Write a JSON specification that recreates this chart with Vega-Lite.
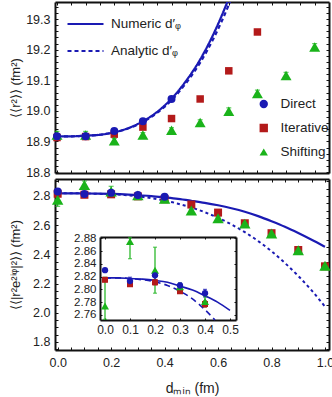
{
  "$schema": "https://vega.github.io/schema/vega-lite/v6.json",
  "width": 274,
  "height": 348,
  "autosize": {"type": "none"},
  "padding": {"left": 55, "top": 2, "right": 3, "bottom": 47},
  "background": "white",
  "config": {
    "view": {"stroke": null},
    "axis": {
      "labelFont": "Liberation Sans", "titleFont": "Liberation Sans",
      "labelFontSize": 12.5, "titleFontSize": 13, "titleFontWeight": "normal",
      "labelColor": "#222", "titleColor": "#222",
      "domainColor": "#111", "domainWidth": 2, "tickColor": "#111", "tickWidth": 1,
      "grid": false, "labelOverlap": false, "labelFlush": false, "zindex": 1
    }
  },
  "datasets": {
    "top_curves": [
      {"d": 0, "v": 18.917, "c": "Numeric d′ᵩ"}, {"d": 0.05, "v": 18.917, "c": "Numeric d′ᵩ"},
      {"d": 0.1, "v": 18.919, "c": "Numeric d′ᵩ"}, {"d": 0.15, "v": 18.922, "c": "Numeric d′ᵩ"},
      {"d": 0.2, "v": 18.930, "c": "Numeric d′ᵩ"}, {"d": 0.25, "v": 18.944, "c": "Numeric d′ᵩ"},
      {"d": 0.3, "v": 18.966, "c": "Numeric d′ᵩ"}, {"d": 0.35, "v": 18.997, "c": "Numeric d′ᵩ"},
      {"d": 0.4, "v": 19.040, "c": "Numeric d′ᵩ"}, {"d": 0.45, "v": 19.097, "c": "Numeric d′ᵩ"},
      {"d": 0.5, "v": 19.168, "c": "Numeric d′ᵩ"}, {"d": 0.55, "v": 19.258, "c": "Numeric d′ᵩ"},
      {"d": 0.6, "v": 19.368, "c": "Numeric d′ᵩ"}, {"d": 0.62, "v": 19.417, "c": "Numeric d′ᵩ"},
      {"d": 0, "v": 18.917, "c": "Analytic d′ᵩ"}, {"d": 0.05, "v": 18.917, "c": "Analytic d′ᵩ"},
      {"d": 0.1, "v": 18.919, "c": "Analytic d′ᵩ"}, {"d": 0.15, "v": 18.922, "c": "Analytic d′ᵩ"},
      {"d": 0.2, "v": 18.930, "c": "Analytic d′ᵩ"}, {"d": 0.25, "v": 18.943, "c": "Analytic d′ᵩ"},
      {"d": 0.3, "v": 18.964, "c": "Analytic d′ᵩ"}, {"d": 0.35, "v": 18.994, "c": "Analytic d′ᵩ"},
      {"d": 0.4, "v": 19.035, "c": "Analytic d′ᵩ"}, {"d": 0.45, "v": 19.090, "c": "Analytic d′ᵩ"},
      {"d": 0.5, "v": 19.158, "c": "Analytic d′ᵩ"}, {"d": 0.55, "v": 19.243, "c": "Analytic d′ᵩ"},
      {"d": 0.6, "v": 19.347, "c": "Analytic d′ᵩ"}, {"d": 0.63, "v": 19.420, "c": "Analytic d′ᵩ"}
    ],
    "top_points": [
      {"d": 0, "v": 18.913, "s": "Iterative"}, {"d": 0.1, "v": 18.916, "s": "Iterative"},
      {"d": 0.2, "v": 18.924, "s": "Iterative"}, {"d": 0.3, "v": 18.947, "s": "Iterative"},
      {"d": 0.4, "v": 18.975, "s": "Iterative"}, {"d": 0.5, "v": 19.039, "s": "Iterative"},
      {"d": 0.6, "v": 19.131, "s": "Iterative"}, {"d": 0.7, "v": 19.258, "s": "Iterative"},
      {"d": 0, "v": 18.921, "lo": 18.909, "hi": 18.933, "s": "Shifting"},
      {"d": 0.1, "v": 18.921, "lo": 18.909, "hi": 18.933, "s": "Shifting"},
      {"d": 0.2, "v": 18.902, "lo": 18.894, "hi": 18.910, "s": "Shifting"},
      {"d": 0.3, "v": 18.921, "lo": 18.913, "hi": 18.929, "s": "Shifting"},
      {"d": 0.4, "v": 18.937, "lo": 18.929, "hi": 18.945, "s": "Shifting"},
      {"d": 0.5, "v": 18.962, "lo": 18.953, "hi": 18.971, "s": "Shifting"},
      {"d": 0.6, "v": 18.999, "lo": 18.988, "hi": 19.010, "s": "Shifting"},
      {"d": 0.7, "v": 19.057, "lo": 19.046, "hi": 19.068, "s": "Shifting"},
      {"d": 0.8, "v": 19.116, "lo": 19.106, "hi": 19.126, "s": "Shifting"},
      {"d": 0.9, "v": 19.209, "lo": 19.198, "hi": 19.220, "s": "Shifting"},
      {"d": 0, "v": 18.917, "s": "Direct"}, {"d": 0.1, "v": 18.917, "s": "Direct"},
      {"d": 0.2, "v": 18.934, "s": "Direct"}, {"d": 0.3, "v": 18.966, "s": "Direct"},
      {"d": 0.4, "v": 19.039, "s": "Direct"}
    ],
    "bot_curves": [
      {"d": 0, "v": 2.818, "c": "N"}, {"d": 0.05, "v": 2.818, "c": "N"}, {"d": 0.1, "v": 2.817, "c": "N"},
      {"d": 0.15, "v": 2.816, "c": "N"}, {"d": 0.2, "v": 2.814, "c": "N"}, {"d": 0.25, "v": 2.811, "c": "N"},
      {"d": 0.3, "v": 2.805, "c": "N"}, {"d": 0.35, "v": 2.799, "c": "N"}, {"d": 0.4, "v": 2.790, "c": "N"},
      {"d": 0.45, "v": 2.780, "c": "N"}, {"d": 0.5, "v": 2.767, "c": "N"}, {"d": 0.55, "v": 2.753, "c": "N"},
      {"d": 0.6, "v": 2.736, "c": "N"}, {"d": 0.65, "v": 2.716, "c": "N"}, {"d": 0.7, "v": 2.692, "c": "N"},
      {"d": 0.75, "v": 2.662, "c": "N"}, {"d": 0.8, "v": 2.627, "c": "N"}, {"d": 0.85, "v": 2.589, "c": "N"},
      {"d": 0.9, "v": 2.546, "c": "N"}, {"d": 0.95, "v": 2.500, "c": "N"}, {"d": 1.0, "v": 2.452, "c": "N"},
      {"d": 0, "v": 2.818, "c": "A"}, {"d": 0.05, "v": 2.818, "c": "A"}, {"d": 0.1, "v": 2.817, "c": "A"},
      {"d": 0.15, "v": 2.815, "c": "A"}, {"d": 0.2, "v": 2.812, "c": "A"}, {"d": 0.25, "v": 2.806, "c": "A"},
      {"d": 0.3, "v": 2.797, "c": "A"}, {"d": 0.35, "v": 2.785, "c": "A"}, {"d": 0.4, "v": 2.768, "c": "A"},
      {"d": 0.44, "v": 2.752, "c": "A"},
      {"d": 0.45, "v": 2.747, "c": "A"}, {"d": 0.5, "v": 2.721, "c": "A"}, {"d": 0.55, "v": 2.689, "c": "A"},
      {"d": 0.6, "v": 2.650, "c": "A"}, {"d": 0.65, "v": 2.605, "c": "A"}, {"d": 0.7, "v": 2.552, "c": "A"},
      {"d": 0.75, "v": 2.491, "c": "A"}, {"d": 0.8, "v": 2.421, "c": "A"}, {"d": 0.85, "v": 2.341, "c": "A"},
      {"d": 0.9, "v": 2.252, "c": "A"}, {"d": 0.95, "v": 2.153, "c": "A"}, {"d": 1.0, "v": 2.042, "c": "A"}
    ],
    "bot_points": [
      {"d": 0, "v": 2.815, "lo": 2.812, "hi": 2.818, "ilo": 2.812, "ihi": 2.818, "s": "Iterative"},
      {"d": 0.1, "v": 2.808, "lo": 2.805, "hi": 2.811, "ilo": 2.805, "ihi": 2.811, "s": "Iterative"},
      {"d": 0.2, "v": 2.811, "lo": 2.807, "hi": 2.815, "ilo": 2.807, "ihi": 2.815, "s": "Iterative"},
      {"d": 0.3, "v": 2.797, "lo": 2.794, "hi": 2.800, "ilo": 2.794, "ihi": 2.800, "s": "Iterative"},
      {"d": 0.4, "v": 2.777, "lo": 2.772, "hi": 2.782, "ilo": 2.772, "ihi": 2.782, "s": "Iterative"},
      {"d": 0.5, "v": 2.741, "lo": 2.736, "hi": 2.746, "s": "Iterative"},
      {"d": 0.6, "v": 2.686, "lo": 2.681, "hi": 2.691, "s": "Iterative"},
      {"d": 0.7, "v": 2.613, "lo": 2.608, "hi": 2.618, "s": "Iterative"},
      {"d": 0.8, "v": 2.545, "lo": 2.540, "hi": 2.550, "s": "Iterative"},
      {"d": 0.9, "v": 2.430, "lo": 2.425, "hi": 2.435, "s": "Iterative"},
      {"d": 1.0, "v": 2.318, "lo": 2.313, "hi": 2.323, "s": "Iterative"},
      {"d": 0, "v": 2.774, "lo": 2.729, "hi": 2.819, "ilo": 2.753, "ihi": 2.819, "s": "Shifting"},
      {"d": 0.1, "v": 2.875, "lo": 2.848, "hi": 2.902, "ilo": 2.848, "ihi": 2.881, "s": "Shifting"},
      {"d": 0.2, "v": 2.830, "lo": 2.794, "hi": 2.866, "ilo": 2.794, "ihi": 2.866, "s": "Shifting"},
      {"d": 0.3, "v": 2.804, "lo": 2.798, "hi": 2.810, "ilo": 2.798, "ihi": 2.810, "s": "Shifting"},
      {"d": 0.4, "v": 2.781, "lo": 2.773, "hi": 2.789, "ilo": 2.773, "ihi": 2.789, "s": "Shifting"},
      {"d": 0.5, "v": 2.700, "lo": 2.690, "hi": 2.710, "s": "Shifting"},
      {"d": 0.6, "v": 2.647, "lo": 2.637, "hi": 2.657, "s": "Shifting"},
      {"d": 0.7, "v": 2.610, "lo": 2.598, "hi": 2.622, "s": "Shifting"},
      {"d": 0.8, "v": 2.543, "lo": 2.531, "hi": 2.555, "s": "Shifting"},
      {"d": 0.9, "v": 2.428, "lo": 2.416, "hi": 2.440, "s": "Shifting"},
      {"d": 1.0, "v": 2.322, "lo": 2.307, "hi": 2.337, "s": "Shifting"},
      {"d": 0, "v": 2.830, "lo": 2.828, "hi": 2.832, "ilo": 2.828, "ihi": 2.832, "s": "Direct"},
      {"d": 0.1, "v": 2.813, "lo": 2.807, "hi": 2.819, "ilo": 2.807, "ihi": 2.819, "s": "Direct"},
      {"d": 0.2, "v": 2.822, "lo": 2.815, "hi": 2.829, "ilo": 2.815, "ihi": 2.829, "s": "Direct"},
      {"d": 0.3, "v": 2.806, "lo": 2.802, "hi": 2.810, "ilo": 2.802, "ihi": 2.810, "s": "Direct"},
      {"d": 0.4, "v": 2.794, "lo": 2.788, "hi": 2.800, "ilo": 2.788, "ihi": 2.800, "s": "Direct"}
    ]
  },
  "layer": [
    {
      "layer": [
        {
          "data": {"name": "top_curves"},
          "mark": {"type": "line", "interpolate": "monotone", "strokeWidth": 2.2, "color": "#1a1ab3", "clip": true},
          "encoding": {
            "x": {"field": "d", "type": "quantitative",
              "scale": {"domain": [-0.007, 0.95], "range": [0, 274], "nice": false, "zero": false},
              "axis": {"orient": "bottom", "offset": -177, "labels": false, "title": null, "tickSize": -3,
                "values": [0, 0.05, 0.1, 0.15, 0.2, 0.25, 0.3, 0.35, 0.4, 0.45, 0.5, 0.55, 0.6, 0.65, 0.7, 0.75, 0.8, 0.85, 0.9]}},
            "y": {"field": "v", "type": "quantitative",
              "scale": {"domain": [18.797, 19.356], "range": [171, 0], "nice": false, "zero": false},
              "axis": {"orient": "left", "title": "⟨⟨r²⟩⟩ (fm²)", "tickSize": -3, "labelPadding": 8, "titlePadding": 3,
                "values": [18.8, 18.82, 18.84, 18.86, 18.88, 18.9, 18.92, 18.94, 18.96, 18.98, 19.0, 19.02, 19.04, 19.06, 19.08, 19.1, 19.12, 19.14, 19.16, 19.18, 19.2, 19.22, 19.24, 19.26, 19.28, 19.3, 19.32, 19.34],
                "labelExpr": "abs(datum.value*10 - round(datum.value*10)) < 0.01 ? format(datum.value, '.1f') : ''"}},
            "strokeDash": {"field": "c", "type": "nominal",
              "scale": {"domain": ["Numeric d′ᵩ", "Analytic d′ᵩ"], "range": [[1, 0], [4, 3]]},
              "legend": {"orient": "none", "legendX": 11, "legendY": 15, "title": null, "symbolType": "stroke",
                "symbolSize": 1296, "symbolStrokeColor": "#1a1ab3", "symbolStrokeWidth": 2.2,
                "labelFontSize": 13.5, "labelFont": "Liberation Sans", "labelColor": "#222",
                "labelOffset": 6, "rowPadding": 13, "clipHeight": 14, "padding": 0}}
          }
        },
        {
          "data": {"name": "top_points"},
          "transform": [{"filter": "datum.s == 'Shifting'"}],
          "mark": {"type": "errorbar", "ticks": {"size": 5}, "thickness": 1.2, "color": "#1ab31a"},
          "encoding": {
            "x": {"field": "d", "type": "quantitative",
              "scale": {"domain": [-0.007, 0.95], "range": [0, 274], "nice": false, "zero": false}, "axis": null},
            "y": {"field": "lo", "type": "quantitative",
              "scale": {"domain": [18.797, 19.356], "range": [171, 0], "nice": false, "zero": false}, "axis": null},
            "y2": {"field": "hi"}
          }
        },
        {
          "data": {"name": "top_points"},
          "mark": {"type": "point", "filled": true, "opacity": 1},
          "encoding": {
            "x": {"field": "d", "type": "quantitative",
              "scale": {"domain": [-0.007, 0.95], "range": [0, 274], "nice": false, "zero": false},
              "axis": {"orient": "top", "labels": false, "title": null, "tickSize": -3,
                "values": [0, 0.05, 0.1, 0.15, 0.2, 0.25, 0.3, 0.35, 0.4, 0.45, 0.5, 0.55, 0.6, 0.65, 0.7, 0.75, 0.8, 0.85, 0.9]}},
            "y": {"field": "v", "type": "quantitative",
              "scale": {"domain": [18.797, 19.356], "range": [171, 0], "nice": false, "zero": false},
              "axis": {"orient": "right", "labels": false, "title": null, "tickSize": -3,
                "values": [18.8, 18.82, 18.84, 18.86, 18.88, 18.9, 18.92, 18.94, 18.96, 18.98, 19.0, 19.02, 19.04, 19.06, 19.08, 19.1, 19.12, 19.14, 19.16, 19.18, 19.2, 19.22, 19.24, 19.26, 19.28, 19.3, 19.32, 19.34]}},
            "size": {"field": "s", "type": "nominal",
              "scale": {"type": "ordinal", "domain": ["Direct", "Iterative", "Shifting"], "range": [64, 56, 120]}, "legend": null},
            "color": {"field": "s", "type": "nominal",
              "scale": {"domain": ["Direct", "Iterative", "Shifting"], "range": ["#1a1ab3", "#b31a1a", "#1ab31a"]},
              "legend": {"orient": "none", "legendX": 202, "legendY": 95, "title": null, "symbolSize": 70,
                "labelFontSize": 13.5, "labelFont": "Liberation Sans", "labelColor": "#222",
                "labelOffset": 10, "rowPadding": 10, "clipHeight": 14, "padding": 0, "symbolStrokeWidth": 0}},
            "shape": {"field": "s", "type": "nominal",
              "scale": {"domain": ["Direct", "Iterative", "Shifting"], "range": ["circle", "square", "triangle-up"]},
              "legend": {"orient": "none", "legendX": 202, "legendY": 95, "title": null, "symbolSize": 70,
                "labelFontSize": 13.5, "labelFont": "Liberation Sans", "labelColor": "#222",
                "labelOffset": 10, "rowPadding": 10, "clipHeight": 14, "padding": 0, "symbolStrokeWidth": 0}}
          }
        }
      ]
    },
    {
      "layer": [
        {
          "data": {"name": "bot_curves"},
          "transform": [{"filter": "datum.c == 'N'"}],
          "mark": {"type": "line", "interpolate": "monotone", "strokeWidth": 2.2, "color": "#1a1ab3"},
          "encoding": {
            "x": {"field": "d", "type": "quantitative",
              "scale": {"domain": [-0.01, 1.015], "range": [0, 274], "nice": false, "zero": false},
              "axis": {"orient": "bottom", "title": "dₘᵢₙ (fm)", "titleFontSize": 14, "tickSize": -3, "labelPadding": 9, "titlePadding": 13,
                "values": [0, 0.05, 0.1, 0.15, 0.2, 0.25, 0.3, 0.35, 0.4, 0.45, 0.5, 0.55, 0.6, 0.65, 0.7, 0.75, 0.8, 0.85, 0.9, 0.95, 1.0],
                "labelExpr": "abs(datum.value*5 - round(datum.value*5)) < 0.01 ? format(datum.value, '.1f') : ''"}},
            "y": {"field": "v", "type": "quantitative",
              "scale": {"domain": [1.745, 2.916], "range": [348, 177], "nice": false, "zero": false},
              "axis": {"orient": "left", "title": "⟨⟨|r²e²ⁱᵠ|²⟩⟩ (fm²)", "tickSize": -3, "labelPadding": 8, "titlePadding": 10,
                "values": [1.75, 1.8, 1.85, 1.9, 1.95, 2.0, 2.05, 2.1, 2.15, 2.2, 2.25, 2.3, 2.35, 2.4, 2.45, 2.5, 2.55, 2.6, 2.65, 2.7, 2.75, 2.8, 2.85, 2.9],
                "labelExpr": "abs(datum.value*5 - round(datum.value*5)) < 0.01 ? format(datum.value, '.1f') : ''"}}
          }
        },
        {
          "data": {"name": "bot_curves"},
          "transform": [{"filter": "datum.c == 'A'"}],
          "mark": {"type": "line", "interpolate": "monotone", "strokeWidth": 2, "color": "#1a1ab3", "strokeDash": [3, 3]},
          "encoding": {
            "x": {"field": "d", "type": "quantitative",
              "scale": {"domain": [-0.01, 1.015], "range": [0, 274], "nice": false, "zero": false}, "axis": null},
            "y": {"field": "v", "type": "quantitative",
              "scale": {"domain": [1.745, 2.916], "range": [348, 177], "nice": false, "zero": false}, "axis": null}
          }
        },
        {
          "data": {"name": "bot_points"},
          "transform": [{"filter": "datum.s == 'Shifting'"}],
          "mark": {"type": "errorbar", "ticks": {"size": 5}, "thickness": 1.2, "color": "#1ab31a"},
          "encoding": {
            "x": {"field": "d", "type": "quantitative",
              "scale": {"domain": [-0.01, 1.015], "range": [0, 274], "nice": false, "zero": false}, "axis": null},
            "y": {"field": "lo", "type": "quantitative",
              "scale": {"domain": [1.745, 2.916], "range": [348, 177], "nice": false, "zero": false}, "axis": null},
            "y2": {"field": "hi"}
          }
        },
        {
          "data": {"name": "bot_points"},
          "mark": {"type": "point", "filled": true, "opacity": 1},
          "encoding": {
            "x": {"field": "d", "type": "quantitative",
              "scale": {"domain": [-0.01, 1.015], "range": [0, 274], "nice": false, "zero": false},
              "axis": {"orient": "top", "offset": -177, "labels": false, "title": null, "tickSize": -3,
                "values": [0, 0.05, 0.1, 0.15, 0.2, 0.25, 0.3, 0.35, 0.4, 0.45, 0.5, 0.55, 0.6, 0.65, 0.7, 0.75, 0.8, 0.85, 0.9, 0.95, 1.0]}},
            "y": {"field": "v", "type": "quantitative",
              "scale": {"domain": [1.745, 2.916], "range": [348, 177], "nice": false, "zero": false},
              "axis": {"orient": "right", "labels": false, "title": null, "tickSize": -3,
                "values": [1.75, 1.8, 1.85, 1.9, 1.95, 2.0, 2.05, 2.1, 2.15, 2.2, 2.25, 2.3, 2.35, 2.4, 2.45, 2.5, 2.55, 2.6, 2.65, 2.7, 2.75, 2.8, 2.85, 2.9]}},
            "size": {"field": "s", "type": "nominal",
              "scale": {"type": "ordinal", "domain": ["Direct", "Iterative", "Shifting"], "range": [64, 64, 130]}, "legend": null},
            "color": {"field": "s", "type": "nominal",
              "scale": {"domain": ["Direct", "Iterative", "Shifting"], "range": ["#1a1ab3", "#b31a1a", "#1ab31a"]}, "legend": null},
            "shape": {"field": "s", "type": "nominal",
              "scale": {"domain": ["Direct", "Iterative", "Shifting"], "range": ["circle", "square", "triangle-up"]}, "legend": null}
          }
        }
      ]
    },
    {
      "layer": [
        {
          "data": {"name": "bot_curves"},
          "transform": [{"filter": "datum.c == 'N' && datum.d <= 0.5"}],
          "mark": {"type": "line", "interpolate": "monotone", "strokeWidth": 1.6, "color": "#1a1ab3"},
          "encoding": {
            "x": {"field": "d", "type": "quantitative",
              "scale": {"domain": [-0.02, 0.524], "range": [45, 181], "nice": false, "zero": false},
              "axis": {"orient": "bottom", "offset": -30, "title": null, "tickSize": -2, "labelPadding": 6, "labelFontSize": 12,
                "values": [0, 0.1, 0.2, 0.3, 0.4, 0.5],
                "labelExpr": "format(datum.value, '.1f')"}},
            "y": {"field": "v", "type": "quantitative",
              "scale": {"domain": [2.752, 2.882], "range": [318, 235], "nice": false, "zero": false},
              "axis": {"orient": "left", "offset": -45, "title": null, "tickSize": -2, "labelPadding": 6, "labelFontSize": 11.5,
                "values": [2.76, 2.78, 2.8, 2.82, 2.84, 2.86, 2.88],
                "labelExpr": "format(datum.value, '.2f')"}}
          }
        },
        {
          "data": {"name": "bot_curves"},
          "transform": [{"filter": "datum.c == 'A' && datum.d <= 0.44"}],
          "mark": {"type": "line", "interpolate": "monotone", "strokeWidth": 1.6, "color": "#1a1ab3", "strokeDash": [6, 4]},
          "encoding": {
            "x": {"field": "d", "type": "quantitative",
              "scale": {"domain": [-0.02, 0.524], "range": [45, 181], "nice": false, "zero": false}, "axis": null},
            "y": {"field": "v", "type": "quantitative",
              "scale": {"domain": [2.752, 2.882], "range": [318, 235], "nice": false, "zero": false}, "axis": null}
          }
        },
        {
          "data": {"name": "bot_points"},
          "transform": [{"filter": "datum.d <= 0.4"}],
          "mark": {"type": "errorbar", "ticks": {"size": 4}, "thickness": 1.2},
          "encoding": {
            "x": {"field": "d", "type": "quantitative",
              "scale": {"domain": [-0.02, 0.524], "range": [45, 181], "nice": false, "zero": false}, "axis": null},
            "y": {"field": "ilo", "type": "quantitative",
              "scale": {"domain": [2.752, 2.882], "range": [318, 235], "nice": false, "zero": false}, "axis": null},
            "y2": {"field": "ihi"},
            "color": {"field": "s", "type": "nominal",
              "scale": {"domain": ["Direct", "Iterative", "Shifting"], "range": ["#1a1ab3", "#b31a1a", "#1ab31a"]}, "legend": null}
          }
        },
        {
          "data": {"name": "bot_points"},
          "transform": [{"filter": "datum.d <= 0.4"}],
          "mark": {"type": "point", "filled": true, "opacity": 1},
          "encoding": {
            "x": {"field": "d", "type": "quantitative",
              "scale": {"domain": [-0.02, 0.524], "range": [45, 181], "nice": false, "zero": false},
              "axis": {"orient": "top", "offset": -235, "labels": false, "title": null, "tickSize": -2,
                "values": [0, 0.1, 0.2, 0.3, 0.4, 0.5]}},
            "y": {"field": "v", "type": "quantitative",
              "scale": {"domain": [2.752, 2.882], "range": [318, 235], "nice": false, "zero": false},
              "axis": {"orient": "right", "offset": -93, "labels": false, "title": null, "tickSize": -2,
                "values": [2.76, 2.78, 2.8, 2.82, 2.84, 2.86, 2.88]}},
            "size": {"field": "s", "type": "nominal",
              "scale": {"type": "ordinal", "domain": ["Direct", "Iterative", "Shifting"], "range": [40, 36, 64]}, "legend": null},
            "color": {"field": "s", "type": "nominal",
              "scale": {"domain": ["Direct", "Iterative", "Shifting"], "range": ["#1a1ab3", "#b31a1a", "#1ab31a"]}, "legend": null},
            "shape": {"field": "s", "type": "nominal",
              "scale": {"domain": ["Direct", "Iterative", "Shifting"], "range": ["circle", "square", "triangle-up"]}, "legend": null}
          }
        }
      ]
    }
  ],
  "resolve": {"scale": {"x": "independent", "y": "independent", "size": "independent"}}
}
